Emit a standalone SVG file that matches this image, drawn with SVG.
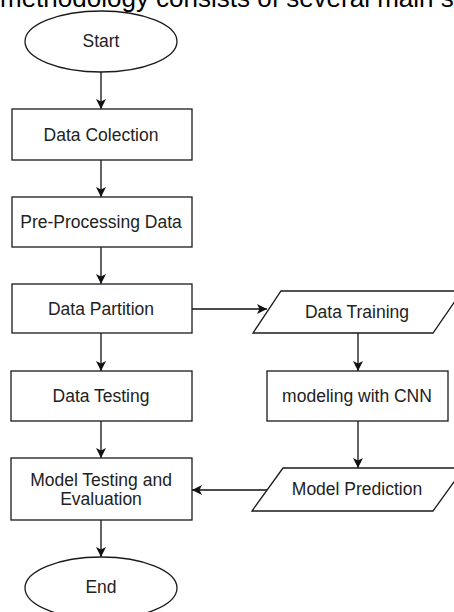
<svg xmlns="http://www.w3.org/2000/svg" width="454" height="612" viewBox="0 0 454 612">
<style>
.s{fill:#fff;stroke:#1a1a1a;stroke-width:1.3}
.t{font-family:"Liberation Sans",Arial,sans-serif;font-size:17.5px;fill:#222;text-anchor:middle;dominant-baseline:central}
.c{fill:none;stroke:#111;stroke-width:1.3}
</style>
<defs>
<marker id="ah" viewBox="0 0 10 10" refX="10" refY="5" markerWidth="10" markerHeight="10" markerUnits="userSpaceOnUse" orient="auto">
<path d="M0,0 L10,5 L0,10 L2.5,5 Z" fill="#111"/>
</marker>
</defs>
<rect width="454" height="612" fill="#fff"/>
<text x="0" y="6.5" font-family="Liberation Sans,Arial,sans-serif" font-size="26" fill="#000">methodology consists of several main s</text>
<g id="connectors">
<line class="c" x1="101" y1="72" x2="101" y2="109" marker-end="url(#ah)"/>
<line class="c" x1="101" y1="160" x2="101" y2="197" marker-end="url(#ah)"/>
<line class="c" x1="101" y1="247" x2="101" y2="284" marker-end="url(#ah)"/>
<line class="c" x1="101" y1="333" x2="101" y2="371" marker-end="url(#ah)"/>
<line class="c" x1="101" y1="421" x2="101" y2="458" marker-end="url(#ah)"/>
<line class="c" x1="101" y1="520" x2="101" y2="557" marker-end="url(#ah)"/>
<line class="c" x1="192" y1="309" x2="267" y2="309" marker-end="url(#ah)"/>
<line class="c" x1="358" y1="333" x2="358" y2="371" marker-end="url(#ah)"/>
<line class="c" x1="358" y1="421" x2="358" y2="468" marker-end="url(#ah)"/>
<line class="c" x1="267" y1="490" x2="192" y2="490" marker-end="url(#ah)"/>
</g>
<g id="start">
<ellipse class="s" cx="101" cy="41.5" rx="76" ry="30.5"/>
<text class="t" x="101" y="41">Start</text>
</g>
<g id="data-colection">
<rect class="s" x="12" y="109" width="180" height="51"/>
<text class="t" x="101" y="134.5">Data Colection</text>
</g>
<g id="pre-processing">
<rect class="s" x="12" y="197" width="180" height="50"/>
<text class="t" x="101" y="222">Pre-Processing Data</text>
</g>
<g id="data-partition">
<rect class="s" x="12" y="284" width="180" height="49"/>
<text class="t" x="101" y="308.5">Data Partition</text>
</g>
<g id="data-testing">
<rect class="s" x="11" y="371" width="181" height="50"/>
<text class="t" x="101" y="395.5">Data Testing</text>
</g>
<g id="model-testing">
<rect class="s" x="11" y="458" width="181" height="62"/>
<text class="t" x="101" y="480">Model Testing and</text>
<text class="t" x="101" y="499">Evaluation</text>
</g>
<g id="end">
<ellipse class="s" cx="101" cy="588" rx="76" ry="31"/>
<text class="t" x="101" y="587">End</text>
</g>
<g id="data-training">
<polygon class="s" points="281,291 462,291 433,333 253,333"/>
<text class="t" x="357" y="312">Data Training</text>
</g>
<g id="modeling-cnn">
<rect class="s" x="267" y="371" width="181" height="50"/>
<text class="t" x="357" y="395.5">modeling with CNN</text>
</g>
<g id="model-prediction">
<polygon class="s" points="283,468 464,468 433,511 252,511"/>
<text class="t" x="357" y="489">Model Prediction</text>
</g>
</svg>
